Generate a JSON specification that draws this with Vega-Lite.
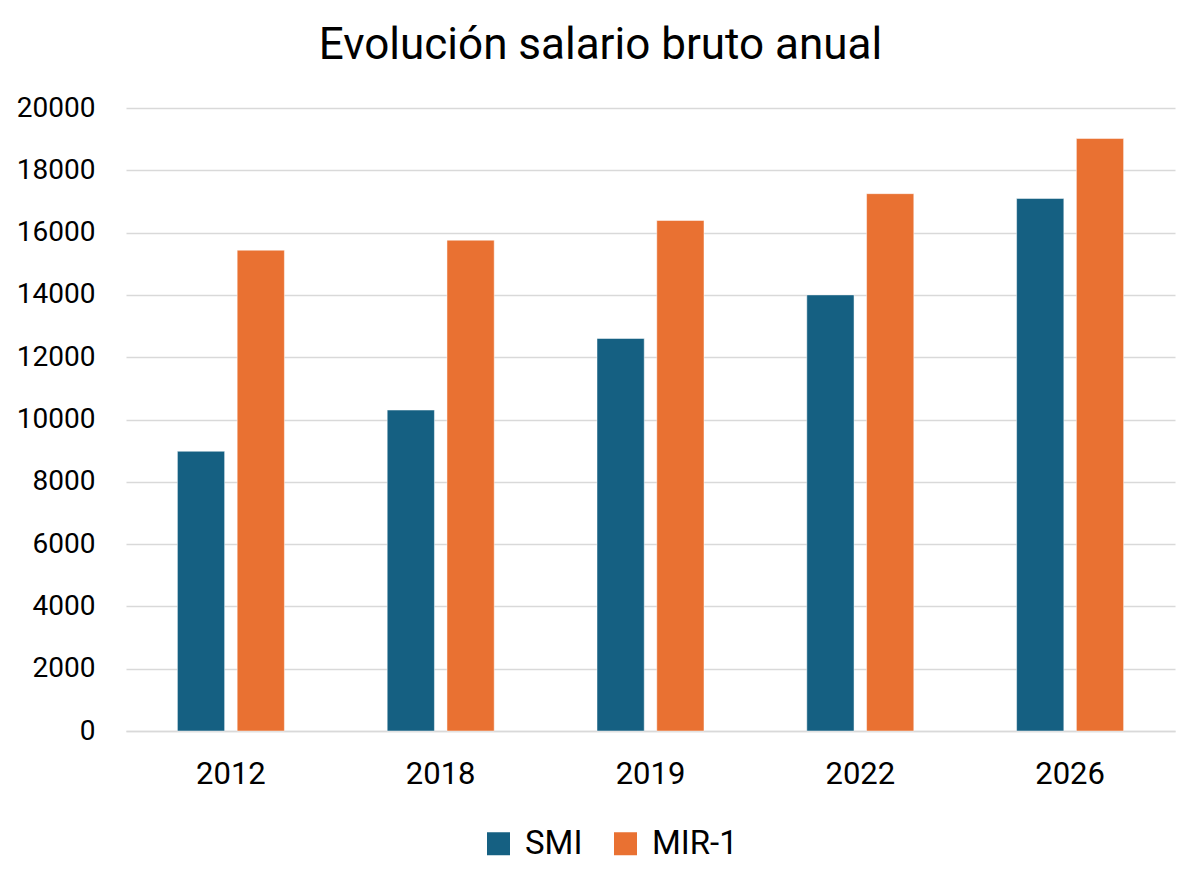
{
  "$schema": "https://vega.github.io/schema/vega-lite/v6.json",
  "description": "Evolución salario bruto anual: SMI vs MIR-1",
  "autosize": {"type": "none"},
  "width": 1049,
  "height": 623,
  "padding": {"left": 126, "top": 108, "right": 25, "bottom": 155},
  "background": "white",
  "config": {
    "view": {"stroke": null},
    "font": "Roboto",
    "axis": {"labelFont": "Roboto", "labelColor": "#000000"},
    "legend": {"labelFont": "Roboto", "labelColor": "#000000"},
    "title": {"font": "Roboto", "color": "#000000", "fontWeight": "normal"}
  },
  "title": {
    "text": "Evolución salario bruto anual",
    "fontSize": 44,
    "anchor": "middle",
    "dx": -50,
    "offset": 26
  },
  "data": {
    "values": [
      {"year": "2012", "serie": "SMI", "salario": 8980},
      {"year": "2012", "serie": "MIR-1", "salario": 15435},
      {"year": "2018", "serie": "SMI", "salario": 10303},
      {"year": "2018", "serie": "MIR-1", "salario": 15756},
      {"year": "2019", "serie": "SMI", "salario": 12600},
      {"year": "2019", "serie": "MIR-1", "salario": 16388},
      {"year": "2022", "serie": "SMI", "salario": 14000},
      {"year": "2022", "serie": "MIR-1", "salario": 17250},
      {"year": "2026", "serie": "SMI", "salario": 17094},
      {"year": "2026", "serie": "MIR-1", "salario": 19020}
    ]
  },
  "mark": {"type": "bar", "stroke": "#ffffff", "strokeOpacity": 0.6, "strokeWidth": 0.8},
  "encoding": {
    "x": {
      "field": "year",
      "type": "nominal",
      "title": null,
      "scale": {"paddingInner": 0, "paddingOuter": 0},
      "axis": {
        "labelAngle": 0,
        "labelFontSize": 31,
        "labelPadding": 28,
        "ticks": false,
        "domainColor": "#d9d9d9",
        "domainWidth": 1.5,
        "grid": false
      }
    },
    "xOffset": {
      "field": "serie",
      "type": "nominal",
      "sort": ["SMI", "MIR-1"],
      "scale": {"paddingInner": 0.21, "paddingOuter": 0.86}
    },
    "y": {
      "field": "salario",
      "type": "quantitative",
      "title": null,
      "scale": {"domain": [0, 20000], "nice": false},
      "axis": {
        "values": [0, 2000, 4000, 6000, 8000, 10000, 12000, 14000, 16000, 18000, 20000],
        "format": "d",
        "labelFontSize": 28,
        "labelPadding": 31,
        "ticks": false,
        "domain": false,
        "gridColor": "#d9d9d9",
        "gridWidth": 1.5
      }
    },
    "color": {
      "field": "serie",
      "type": "nominal",
      "sort": ["SMI", "MIR-1"],
      "scale": {"domain": ["SMI", "MIR-1"], "range": ["#156082", "#E97132"]},
      "legend": {
        "title": null,
        "orient": "none",
        "direction": "horizontal",
        "legendX": 356,
        "legendY": 719,
        "symbolType": "square",
        "symbolSize": 529,
        "symbolStrokeWidth": 0,
        "labelFontSize": 33,
        "labelOffset": 10,
        "columnPadding": 26
      }
    }
  }
}
